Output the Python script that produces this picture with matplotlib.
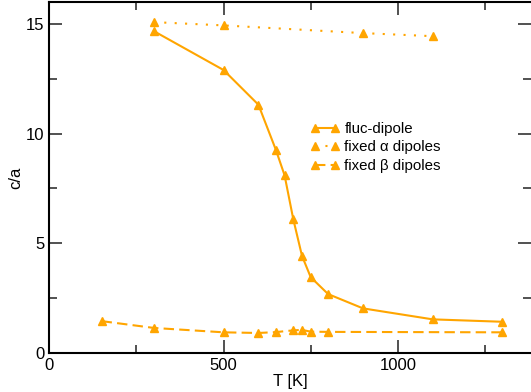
import numpy as np
import matplotlib
matplotlib.use("Agg")
import matplotlib.pyplot as plt
from matplotlib.ticker import MultipleLocator

plt.rcParams['font.family'] = ['Liberation Sans', 'DejaVu Sans']

# fluctuating dipoles
t_fluc = [300, 500, 600, 650, 675, 700, 725, 750, 800, 900, 1100, 1300]
ca_fluc = [14.66, 12.89, 11.31, 9.26, 8.10, 6.10, 4.43, 3.46, 2.69, 2.04, 1.54, 1.43]

# fixed alpha dipoles
t_alpha = [300, 500, 900, 1100]
ca_alpha = [15.07, 14.92, 14.57, 14.43]

# fixed beta dipoles
t_beta = [150, 300, 500, 600, 650, 700, 725, 750, 800, 1300]
ca_beta = [1.46, 1.15, 0.95, 0.92, 0.96, 1.04, 1.06, 0.98, 0.97, 0.95]

col = '#ffa500'

fig = plt.figure(figsize=(5.31, 3.92), dpi=100)
ax = fig.add_axes([0.0928, 0.099, 1.0 - 0.0928, 0.9957 - 0.099])

kw = dict(color=col, marker='^', markersize=6, lw=1.5)
ax.plot(t_fluc, ca_fluc, ls='-', label='fluc-dipole', **kw)
ax.plot(t_alpha, ca_alpha, ls=(0, (1, 4)), label='fixed \u03b1 dipoles', **kw)
ax.plot(t_beta, ca_beta, ls=(0, (5, 2.5)), label='fixed \u03b2 dipoles', **kw)

ax.set_xlim(0, 1382)
ax.set_ylim(0, 16)
ax.xaxis.set_major_locator(MultipleLocator(500))
ax.xaxis.set_minor_locator(MultipleLocator(250))
ax.yaxis.set_major_locator(MultipleLocator(5))
ax.yaxis.set_minor_locator(MultipleLocator(2.5))
ax.tick_params(which='both', direction='in', top=True, right=True, labelsize=12, width=1.2, color='#333333')
ax.tick_params(which='major', length=9.5)
ax.tick_params(which='minor', length=5.5)
for s in ax.spines.values():
    s.set_linewidth(1.5)
ax.spines['right'].set_visible(False)

ax.set_xlabel('T [K]', fontsize=12, labelpad=1)
ax.set_ylabel('c/a', fontsize=12, labelpad=2)

ax.legend(loc='upper left', bbox_to_anchor=(310 / 531, 1 - 122 / 392),
          bbox_transform=fig.transFigure, frameon=False, fontsize=10.8,
          numpoints=2, handlelength=1.95, handletextpad=0.35,
          labelspacing=0.3, borderpad=0, borderaxespad=0)

fig.savefig('out.png', dpi=100)
